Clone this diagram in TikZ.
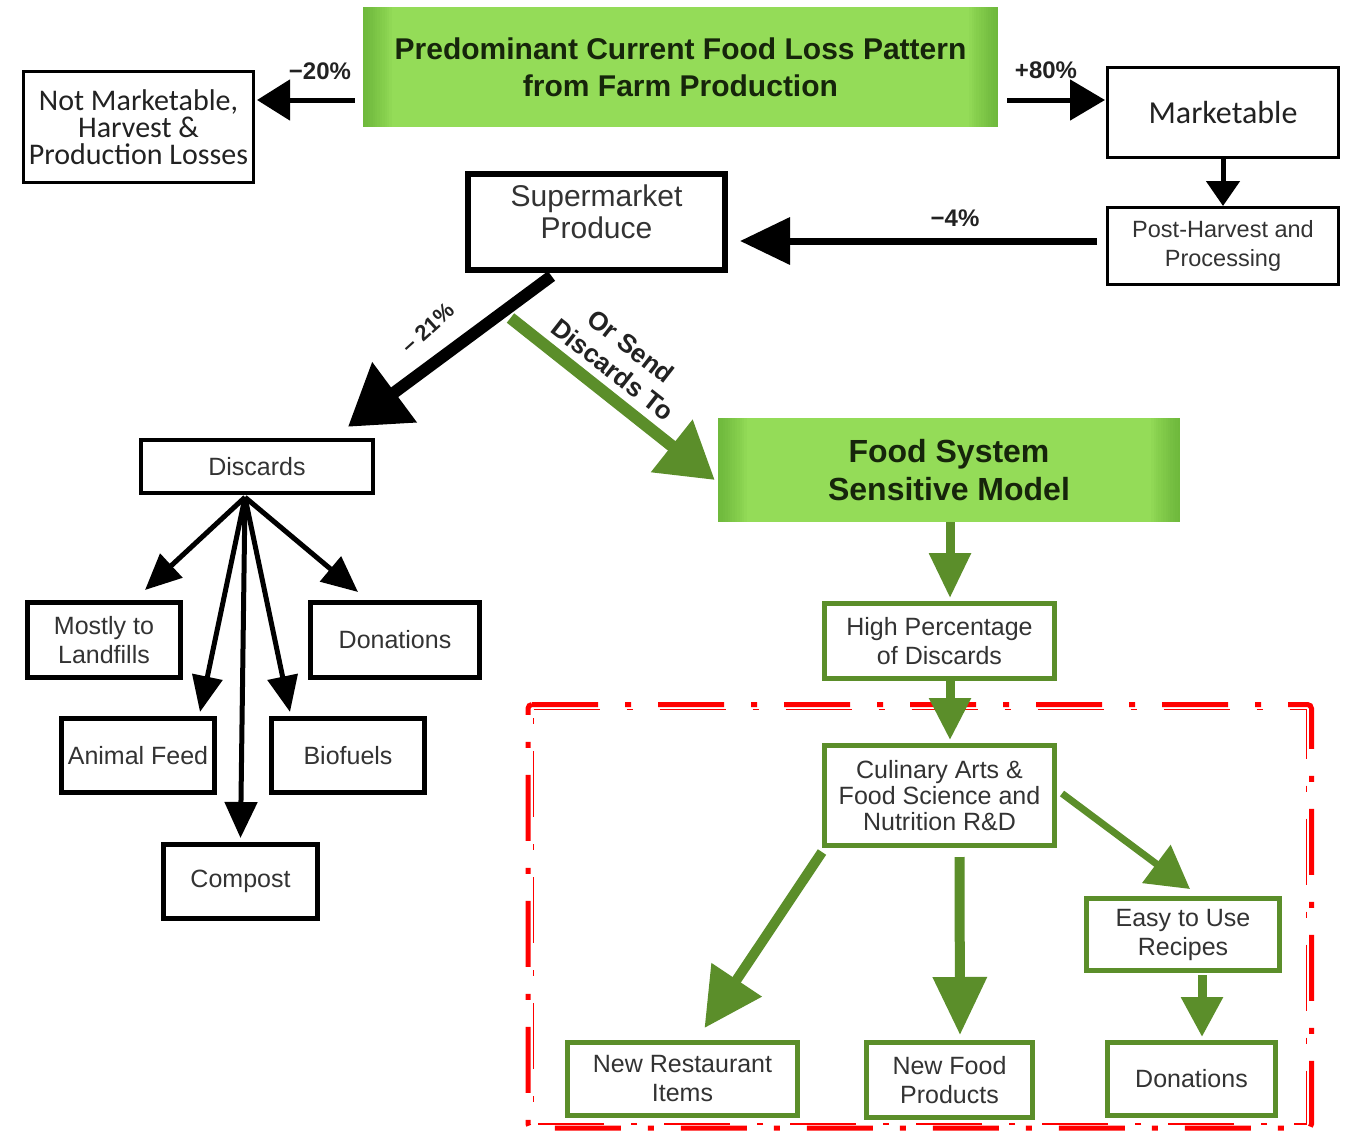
\documentclass[tikz,border=0pt]{standalone}
\usepackage{fontspec}
\setmainfont{Liberation Sans}
\newfontfamily\calfont{Carlito}
\usetikzlibrary{arrows.meta,calc}
\definecolor{txtgray}{HTML}{333333}
\definecolor{txtdark}{HTML}{222222}
\definecolor{grfill}{HTML}{94DC58}
\definecolor{grdark}{HTML}{4E9A25}
\definecolor{grline}{HTML}{5B8E2A}
\definecolor{grtext}{HTML}{16250B}
\definecolor{redline}{HTML}{FF0000}
\begin{document}
\begin{tikzpicture}[x=1pt,y=-1pt,
  bx/.style={draw=black, fill=white, align=center, inner sep=0pt, text=txtgray,
    font=\fontsize{25pt}{29pt}\selectfont},
  gbx/.style={draw=grline, line width=5pt, fill=white, align=center, inner sep=0pt, text=txtgray,
    font=\fontsize{25pt}{29pt}\selectfont},
  gshade/.style={fill=grfill, align=center, inner sep=0pt, text=grtext,
    path picture={
      \foreach \k in {1,...,12}{
        \fill[grdark, opacity=0.05] (path picture bounding box.north west) rectangle ([xshift=2.4*\k pt]path picture bounding box.south west);
        \fill[grdark, opacity=0.05] ([xshift=-2.4*\k pt]path picture bounding box.north east) rectangle (path picture bounding box.south east);
      }
    }},
  lbl/.style={font=\bfseries\fontsize{24pt}{30pt}\selectfont, text=txtdark, align=center, inner sep=0pt},
  arr/.style args={#1/#2/#3/#4}{draw=#4, line width=#1, -{Triangle[length=#2, width=#3]}},
  redout/.style={draw=redline, line width=5pt, dash pattern=on 66pt off 27pt on 6pt off 27pt, rounded corners=4pt},
  redin/.style={draw=redline, line width=1.8pt, dash pattern=on 66pt off 27pt on 6pt off 27pt}
]
\useasboundingbox (0,0) rectangle (1352,1130);
\fill[white] (0,0) rectangle (1352,1130);

% ---------- top row ----------
\node[gshade, minimum width=635pt, minimum height=120pt,
  font=\bfseries\fontsize{30pt}{37pt}\selectfont] (top) at (680.5,67)
  {Predominant Current Food Loss Pattern\\from Farm Production};
\node[bx, line width=3pt, minimum width=230pt, minimum height=111pt, text=txtdark,
  font=\calfont\fontsize{30pt}{27pt}\selectfont] (nm) at (138.5,127)
  {Not Marketable,\\Harvest \&\\Production Losses};
\node[bx, line width=3pt, minimum width=231pt, minimum height=90pt, text=txtdark,
  font=\calfont\fontsize{32pt}{32pt}\selectfont] (mk) at (1223,112.5) {Marketable};
\node[bx, line width=3pt, minimum width=231pt, minimum height=77pt,
  font=\fontsize{23.5pt}{29pt}\selectfont] (ph) at (1223,246) {Post-Harvest and\\Processing};
\node[bx, line width=6pt, minimum width=257pt, minimum height=96pt] (sp) at (596.5,222) {};
\node[align=center, inner sep=0pt, text=txtgray, font=\fontsize{30pt}{32pt}\selectfont] (spt)
  at ([shift={(0,-10)}]sp.center) {Supermarket\\Produce};

% ---------- left branch ----------
\node[bx, line width=4.5pt, minimum width=232pt, minimum height=53pt] (dc) at (257,466.5) {Discards};
\node[bx, line width=5pt, minimum width=153pt, minimum height=75pt] (ml) at (104,640) {Mostly to\\Landfills};
\node[bx, line width=5pt, minimum width=169pt, minimum height=75pt] (dn) at (395,640) {Donations};
\node[bx, line width=5pt, minimum width=153pt, minimum height=74pt] (af) at (138,755.5) {Animal Feed};
\node[bx, line width=5pt, minimum width=153pt, minimum height=74pt] (bf) at (348,755.5) {Biofuels};
\node[bx, line width=5pt, minimum width=154pt, minimum height=74pt] (cp) at (240.5,881.5) {Compost};

% ---------- right branch ----------
\node[gshade, minimum width=462pt, minimum height=104pt,
  font=\bfseries\fontsize{32pt}{38pt}\selectfont] (fs) at (949,470) {Food System\\Sensitive Model};
\node[gbx, minimum width=230pt, minimum height=75pt] (hp) at (939.5,641) {High Percentage\\of Discards};
\node[gbx, minimum width=230pt, minimum height=100pt, font=\fontsize{25pt}{26pt}\selectfont] (ca) at (939.5,795.5)
  {Culinary Arts \&\\Food Science and\\Nutrition R\&D};
\node[gbx, minimum width=193pt, minimum height=72pt] (er) at (1183,934.5) {Easy to Use\\Recipes};
\node[gbx, minimum width=230pt, minimum height=73pt] (nr) at (682.5,1079) {New Restaurant\\Items};
\node[gbx, minimum width=166pt, minimum height=75pt] (nf) at (949.5,1080) {New Food\\Products};
\node[gbx, minimum width=168pt, minimum height=73pt] (dn2) at (1191.5,1079) {Donations};

% ---------- red dash-dot frame ----------
\draw[redout] (528,704.5) -- (1311.5,704.5) -- (1311.5,1128) -- (528,1128) -- cycle;
\draw[redin] (533.5,709.5) -- (1306.5,709.5) -- (1306.5,1124) -- (533.5,1124) -- cycle;

% ---------- black connectors ----------
\draw[arr=5pt/33pt/40pt/black] ([shift={(-8,33)}]top.west) -- ([shift={(2,-27)}]nm.east);
\draw[arr=5pt/35pt/40pt/black] ([shift={(9,33)}]top.east) -- ([shift={(-1,-12.5)}]mk.west);
\draw[arr=5pt/25pt/33pt/black] (mk.south) -- (ph.north);
\draw[arr=7pt/50pt/46pt/black] ([shift={(-9,-5)}]ph.west) -- ([shift={(12,19)}]sp.east);
\draw[arr=12pt/58pt/72pt/black] ([shift={(-45,3)}]sp.south) -- ([shift={(91,-11)}]dc.north);
\draw[arr=12pt/55pt/64pt/grline] ([shift={(-86,45)}]sp.south) -- ([shift={(-3,10)}]fs.west);

\coordinate (dcs) at ([shift={(-12,2)}]dc.south);
\draw[arr=5pt/36pt/32pt/black] (dcs) -- ([shift={(41,-10)}]ml.north);
\draw[arr=5pt/36pt/30pt/black] (dcs) -- ([shift={(62,-4)}]af.north);
\draw[arr=5pt/36pt/32pt/black] (dcs) -- ([shift={(0,-4)}]cp.north);
\draw[arr=5pt/36pt/30pt/black] (dcs) -- ([shift={(-58,-4)}]bf.north);
\draw[arr=5pt/36pt/32pt/black] (dcs) -- ([shift={(-37,-8)}]dn.north);

% ---------- green connectors ----------
\draw[arr=9pt/45pt/40pt/grline] ([shift={(1,0)}]fs.south) -- ([shift={(10.5,-3)}]hp.north);
\draw[arr=9pt/42pt/40pt/grline] ([shift={(10.5,0)}]hp.south) -- ([shift={(10.5,-3)}]ca.north);
\draw[arr=10pt/58pt/58pt/grline] ([shift={(0,4)}]ca.south west) -- ([shift={(22,-12)}]nr.north);
\draw[arr=10pt/58pt/52pt/grline] ([shift={(20,9)}]ca.south) -- ([shift={(10.5,-5)}]nf.north);
\draw[arr=7pt/42pt/46pt/grline] ([shift={(5,-2)}]ca.east) -- ([shift={(7,-7)}]er.north);
\draw[arr=9pt/40pt/40pt/grline] ([shift={(19,2)}]er.south) -- ([shift={(10.5,-3)}]dn2.north);

% ---------- labels ----------
\node[lbl] (l20) at (320,71) {−20\%};
\node[lbl] (l80) at (1046,70) {+80\%};
\node[lbl] (l4) at (955,218) {−4\%};
\node[lbl, rotate=42, font=\bfseries\fontsize{22pt}{26pt}\selectfont] (l21) at (428,328) {– 21\%};
\node[lbl, rotate=-38, font=\bfseries\fontsize{26pt}{30pt}\selectfont] (lsend) at (622,358) {Or Send\\Discards To};
\end{tikzpicture}
\end{document}
